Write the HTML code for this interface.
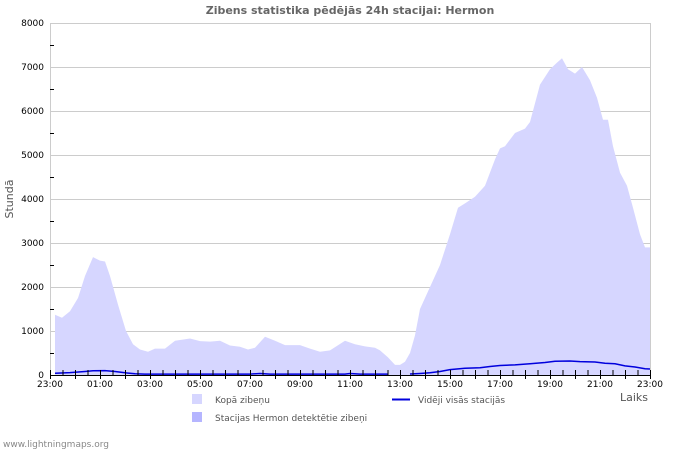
<!DOCTYPE html>
<html><head><meta charset="utf-8"><style>
body{margin:0;background:#fff;}
text{font-family:"DejaVu Sans","Liberation Sans",sans-serif;}
</style></head><body>
<svg width="700" height="450" viewBox="0 0 700 450" xmlns="http://www.w3.org/2000/svg">
<rect width="700" height="450" fill="#fff"/>
<text x="350" y="14" text-anchor="middle" font-size="11" font-weight="bold" fill="#666">Zibens statistika pēdējās 24h stacijai: Hermon</text>
<g stroke="#ccc" stroke-width="1">
<line x1="50" y1="23.5" x2="650" y2="23.5"/><line x1="50" y1="67.5" x2="650" y2="67.5"/>
<line x1="50" y1="111.5" x2="650" y2="111.5"/><line x1="50" y1="155.5" x2="650" y2="155.5"/>
<line x1="50" y1="199.5" x2="650" y2="199.5"/><line x1="50" y1="243.5" x2="650" y2="243.5"/>
<line x1="50" y1="287.5" x2="650" y2="287.5"/><line x1="50" y1="331.5" x2="650" y2="331.5"/>
<line x1="50.5" y1="23" x2="50.5" y2="375"/><line x1="650.5" y1="23" x2="650.5" y2="375"/>
</g>
<path fill="#d6d6ff" d="M55,375 L55,314.7 L62,317.8 L70,311.2 L78,298 L85,276 L93,257.1 L100,260.6 L105,261.5 L110,276 L118,304.6 L126,331 L133,344.2 L140,349.5 L148,351.7 L155,348.6 L165,348.6 L175,340.7 L190,338.5 L200,341.1 L210,341.6 L220,340.7 L230,345.5 L240,346.8 L248,349.5 L255,347.7 L265,336.7 L275,340.7 L285,345.1 L300,345.1 L310,348.6 L320,351.7 L330,350.4 L345,340.7 L355,344.2 L365,346.4 L375,347.7 L380,350.4 L388,357.4 L395,364.9 L400,364.9 L405,361.8 L410,353 L415,335.4 L420,309 L430,287 L440,265 L450,234.2 L458,207.8 L465,203.4 L475,196.8 L485,185.8 L495,159.4 L500,148.4 L505,146.2 L515,133 L525,128.6 L530,122 L540,84.6 L550,69.2 L557,62.6 L562,58.2 L568,69.2 L575,73.6 L582,67 L590,80.2 L597,97.8 L603,119.8 L608,119.8 L613,146.2 L620,172.6 L627,185.8 L633,207.8 L640,234.2 L645,247.4 L650,247.4 L650,375 Z"/>
<polyline fill="none" stroke="#0000dd" stroke-width="1.5" points="55,373.2 70,372.6 85,371.5 93,370.8 105,370.6 115,371.5 125,372.8 135,373.8 145,374.1 250,374.1 260,373.5 270,374.1 345,374.1 350,373.5 360,374.1 388,374.1"/>
<polyline fill="none" stroke="#0000dd" stroke-width="1.5" points="410,374 420,373.5 430,372.8 440,371.5 450,369.6 465,368.3 480,367.8 490,366.5 500,365.5 515,364.9 530,363.8 545,362.5 555,361.2 570,361 580,361.6 595,362 605,363.2 615,363.8 625,365.9 635,367 645,368.8 650,369"/>
<g stroke="#000" stroke-width="1">
<line x1="50" y1="375.5" x2="650" y2="375.5"/>
</g>
<g font-size="9" fill="#000" text-anchor="end">
<text x="44" y="26">8000</text><text x="44" y="70">7000</text><text x="44" y="114">6000</text>
<text x="44" y="158">5000</text><text x="44" y="202">4000</text><text x="44" y="246">3000</text>
<text x="44" y="290">2000</text><text x="44" y="334">1000</text><text x="44" y="378">0</text>
</g>
<g stroke="#000" stroke-width="1">
<line x1="50" y1="45.5" x2="54" y2="45.5"/><line x1="50" y1="89.5" x2="54" y2="89.5"/><line x1="50" y1="133.5" x2="54" y2="133.5"/><line x1="50" y1="177.5" x2="54" y2="177.5"/><line x1="50" y1="221.5" x2="54" y2="221.5"/><line x1="50" y1="265.5" x2="54" y2="265.5"/><line x1="50" y1="309.5" x2="54" y2="309.5"/><line x1="50" y1="353.5" x2="54" y2="353.5"/>
</g>
<g id="xt" stroke="#000" stroke-width="1"></g>
<g font-size="9" fill="#000" text-anchor="middle">
<text x="50" y="387">23:00</text><text x="100" y="387">01:00</text><text x="150" y="387">03:00</text>
<text x="200" y="387">05:00</text><text x="250" y="387">07:00</text><text x="300" y="387">09:00</text>
<text x="350" y="387">11:00</text><text x="400" y="387">13:00</text><text x="450" y="387">15:00</text>
<text x="500" y="387">17:00</text><text x="550" y="387">19:00</text><text x="600" y="387">21:00</text>
<text x="650" y="387">23:00</text>
</g>
<text x="634" y="401" font-size="11" fill="#555" text-anchor="middle">Laiks</text>
<text x="13" y="199" font-size="11" fill="#555" text-anchor="middle" transform="rotate(-90 13 199)">Stundā</text>
<rect x="192" y="394" width="10" height="10" fill="#d6d6ff"/>
<text x="215" y="403" font-size="9" fill="#555">Kopā zibeņu</text>
<rect x="192" y="412" width="10" height="10" fill="#b5b5ff"/>
<text x="215" y="421" font-size="9" fill="#555">Stacijas Hermon detektētie zibeņi</text>
<line x1="392" y1="399.5" x2="410" y2="399.5" stroke="#0000dd" stroke-width="2"/>
<text x="418" y="403" font-size="9" fill="#555">Vidēji visās stacijās</text>
<text x="3" y="447" font-size="9" fill="#888">www.lightningmaps.org</text>
</svg>
<script>
var g=document.getElementById('xt'),s='';
for(var i=0;i<=48;i++){var x=50+i*12.5+0.5;s+='<line x1="'+x+'" y1="370" x2="'+x+'" y2="'+(i%2==0?379:375)+'"/>';}
g.innerHTML=s;
</script>
</body></html>
